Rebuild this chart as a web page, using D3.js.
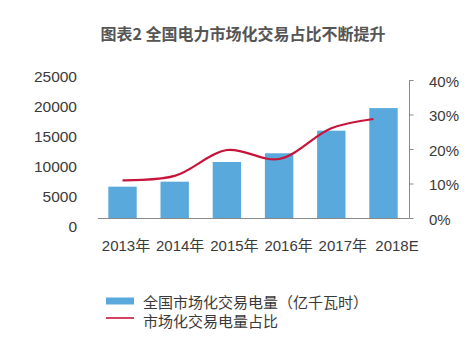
<!DOCTYPE html>
<html><head><meta charset="utf-8">
<script src="https://cdn.jsdelivr.net/npm/d3@7"></script>
<style>
html,body{margin:0;padding:0;background:#fff;}
svg{display:block;}
text{font-family:"Liberation Sans","Noto Sans CJK SC",sans-serif;}
</style></head>
<body>
<svg id="chart" width="476" height="343"></svg>
<script>
const title = "图表2 全国电力市场化交易占比不断提升";
const categories = ["2013年","2014年","2015年","2016年","2017年","2018E"];
const volume = [6650, 7480, 10750, 12200, 15950, 19700];
const share = [0.109, 0.122, 0.197, 0.171, 0.260, 0.287];
const leftTicks = [0, 5000, 10000, 15000, 20000, 25000];
const rightTicks = [0, 0.1, 0.2, 0.3, 0.4];
const legendLabels = ["全国市场化交易电量（亿千瓦时）", "市场化交易电量占比"];

const barColor = "#5aa9dc", lineColor = "#c8143a", axisColor = "#8a8a8a", textColor = "#3a3a3a";
const svg = d3.select("#chart");

svg.append("text").attr("x", 243).attr("y", 33).attr("text-anchor", "middle")
  .attr("dominant-baseline", "central").attr("font-size", 16).attr("font-weight", "bold")
  .attr("fill", "#555").style("font-family", "'Noto Sans CJK SC','Liberation Sans',sans-serif").text(title);

const x = d3.scalePoint().domain(categories).range([122.5, 383.5]);
const xLabel = d3.scalePoint().domain(categories).range([126, 397]);
const yL = d3.scaleLinear().domain([0, 25000]).range([226.7, 76.2]);
const yR = d3.scaleLinear().domain([0, 0.4]).range([218, 80]);
const barW = 28.4;
const base = yR(0);

// bars
svg.append("g").selectAll("rect").data(volume).join("rect")
  .attr("x", (d, i) => x(categories[i]) - barW / 2)
  .attr("y", d => yL(d))
  .attr("width", barW)
  .attr("height", d => base - yL(d))
  .attr("fill", barColor);

// baseline
svg.append("line").attr("x1", 98).attr("x2", 409).attr("y1", base + 0.5).attr("y2", base + 0.5)
  .attr("stroke", axisColor).attr("stroke-width", 1);

// right axis
const rAxis = svg.append("g").attr("transform", "translate(409.5,0)")
  .call(d3.axisRight(yR).tickValues(rightTicks).tickSize(4).tickFormat(""));
rAxis.select(".domain").attr("stroke", axisColor).attr("d", `M0,${yR(0.4)}V${base + 0.5}`);
rAxis.selectAll(".tick line").attr("stroke", axisColor);

svg.append("g").selectAll("text").data(rightTicks).join("text")
  .attr("x", 429).attr("y", d => yR(d) + 1).attr("dominant-baseline", "central")
  .attr("font-size", 15).attr("fill", textColor).text(d3.format(".0%"));

// left labels
svg.append("g").selectAll("text").data(leftTicks).join("text")
  .attr("x", 77).attr("y", d => yL(d)).attr("text-anchor", "end").attr("dominant-baseline", "central")
  .attr("font-size", 15.5).attr("fill", textColor).text(d => d);

// x labels
svg.append("g").selectAll("text").data(categories).join("text")
  .attr("x", d => xLabel(d)).attr("y", 245.5).attr("text-anchor", "middle").attr("dominant-baseline", "central")
  .attr("font-size", 15).attr("fill", textColor).text(d => d);

// line
const lineEndInset = 10;
const pts = share.map((v, i) => [x(categories[i]) - (i === share.length - 1 ? lineEndInset : 0), yR(v)]);
svg.append("path").attr("d", d3.line().curve(d3.curveCatmullRom.alpha(0.5))(pts))
  .attr("fill", "none").attr("stroke", lineColor).attr("stroke-width", 2.2);

// legend
svg.append("rect").attr("x", 106).attr("y", 297.5).attr("width", 28).attr("height", 7).attr("fill", barColor);
svg.append("line").attr("x1", 106).attr("x2", 134).attr("y1", 318).attr("y2", 318)
  .attr("stroke", lineColor).attr("stroke-width", 1.6);
svg.append("g").selectAll("text").data(legendLabels).join("text")
  .attr("x", 143).attr("y", (d, i) => i === 0 ? 301 : 320).attr("dominant-baseline", "central")
  .attr("font-size", 15).attr("fill", textColor)
  .style("font-family", "'Noto Sans CJK SC','Liberation Sans',sans-serif").text(d => d);
</script>
</body></html>
